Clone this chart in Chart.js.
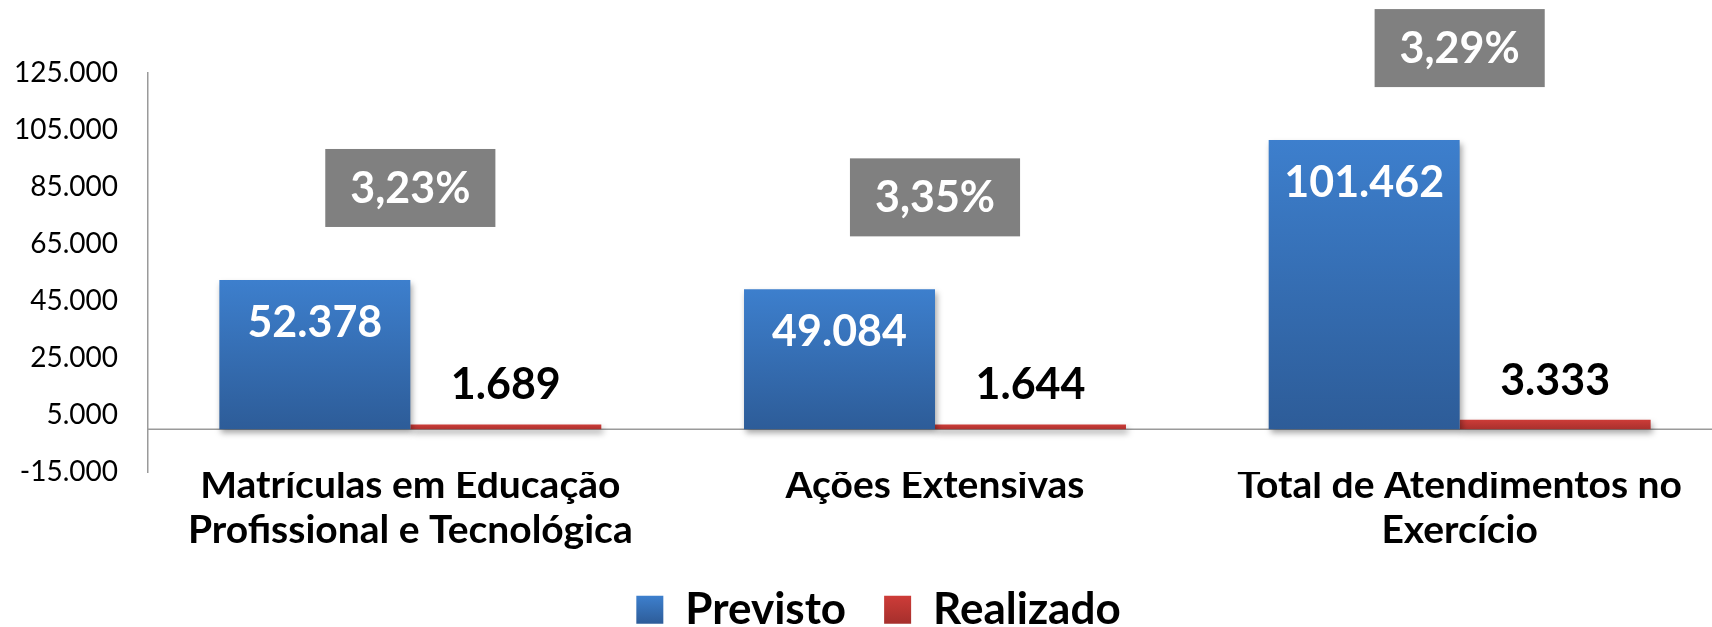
<!DOCTYPE html>
<html lang="pt-BR">
<head>
<meta charset="utf-8">
<script src="https://cdn.jsdelivr.net/npm/chart.js@4"></script>
<style>
  html, body { margin: 0; padding: 0; background: #fff; overflow: hidden; }
  #wrap { width: 1722px; height: 627px; position: relative; }
</style>
</head>
<body>
<div id="wrap"><canvas id="myChart"></canvas></div>
<script>
const categorias = [
  ['Matrículas em Educação', 'Profissional e Tecnológica'],
  'Ações Extensivas',
  ['Total de Atendimentos no', 'Exercício']
];
const previsto = [52378, 49084, 101462];
const realizado = [1689, 1644, 3333];
const percentuais = ['3,23%', '3,35%', '3,29%'];
const yTicks = [-15000, 5000, 25000, 45000, 65000, 85000, 105000, 125000];

const FONTE = 'Lato, "Open Sans", sans-serif';

function fmt (v) {
  const s = Math.abs(v).toString().replace(/\B(?=(\d{3})+(?!\d))/g, '.');
  return (v < 0 ? '-' : '') + s;
}

function gradiente (cima, baixo) {
  return function (ctx) {
    if (ctx.type !== 'data' || !ctx.chart.chartArea) return cima;
    const y = ctx.chart.scales.y;
    const y0 = y.getPixelForValue(ctx.raw);
    const y1 = y.getPixelForValue(0);
    const g = ctx.chart.ctx.createLinearGradient(0, y0, 0, y1 + 1);
    g.addColorStop(0, cima);
    g.addColorStop(1, baixo);
    return g;
  };
}

const rotulos = {
  id: 'rotulos',
  afterLayout (chart) {
    // deixa os rótulos de duas linhas descerem sobre a área da legenda
    chart.scales.x.bottom = chart.height;
    // legenda um pouco deslocada para a direita, como no original
    chart.legend.left = 35;
  },
  beforeDatasetsDraw (chart) {
    const c = chart.ctx;
    const area = chart.chartArea;
    const y0 = chart.scales.y.getPixelForValue(0);
    c.save();
    c.strokeStyle = '#9a9a9a';
    c.lineWidth = 1.5;
    c.beginPath();
    c.moveTo(area.left, y0);
    c.lineTo(area.right, y0);
    c.stroke();
    c.restore();
    // sombra das barras
    c.save();
    c.shadowColor = 'rgba(0,0,0,0.35)';
    c.shadowBlur = 6;
    c.shadowOffsetX = 2;
    c.shadowOffsetY = 4;
  },
  afterDatasetsDraw (chart) {
    const c = chart.ctx;
    c.restore();
    const azul = chart.getDatasetMeta(0).data;
    const verm = chart.getDatasetMeta(1).data;
    c.save();
    c.textAlign = 'center';
    c.textBaseline = 'middle';
    azul.forEach((bar, i) => {
      c.font = 'bold 43px ' + FONTE;
      c.fillStyle = '#ffffff';
      c.fillText(fmt(previsto[i]), bar.x, bar.y + 43);

      const r = verm[i];
      c.fillStyle = '#000000';
      c.fillText(fmt(realizado[i]), r.x, r.y - 39);

      // caixa cinza com o percentual
      const cx = chart.scales.x.getPixelForValue(i);
      const cy = bar.y - 92;
      c.font = 'bold 43px ' + FONTE;
      const w = c.measureText(percentuais[i]).width + 50;
      c.fillStyle = '#808080';
      c.fillRect(cx - w / 2, cy - 39, w, 78);
      c.fillStyle = '#ffffff';
      c.fillText(percentuais[i], cx, cy + 1);
    });
    c.restore();
  }
};

const ctx = document.getElementById('myChart').getContext('2d');
const myChart = new Chart(ctx, {
  type: 'bar',
  data: {
    labels: categorias,
    datasets: [{
      label: 'Previsto',
      data: previsto,
      backgroundColor: gradiente('#3d7fcd', '#2d5c98')
    }, {
      label: 'Realizado',
      data: realizado,
      backgroundColor: gradiente('#cd3c38', '#a52f2c')
    }]
  },
  options: {
    responsive: true,
    maintainAspectRatio: false,
    animation: false,
    layout: { padding: { top: 73, left: 0, right: 0, bottom: 0 } },
    datasets: {
      bar: { categoryPercentage: 0.728, barPercentage: 1.0 }
    },
    scales: {
      x: {
        grid: { display: false, drawTicks: false },
        border: { display: false },
        ticks: {
          color: '#000',
          padding: -9,
          maxRotation: 0,
          autoSkip: false,
          font: { family: FONTE, size: 39, weight: 'bold', lineHeight: 45 / 39 }
        },
        afterFit (scale) { scale.height = 77.7; }
      },
      y: {
        min: -15000,
        max: 125000,
        grid: { display: false, drawTicks: false },
        border: { display: true, color: '#9a9a9a', width: 1.5 },
        afterBuildTicks (scale) {
          scale.ticks = yTicks.map(v => ({ value: v }));
        },
        ticks: {
          color: '#000',
          padding: 30,
          font: { family: FONTE, size: 28 },
          callback: v => fmt(v)
        },
        afterFit (scale) { scale.width = 148; }
      }
    },
    plugins: {
      tooltip: { enabled: false },
      legend: {
        position: 'bottom',
        maxHeight: 77.3,
        labels: {
          color: '#000',
          boxWidth: 27,
          boxHeight: 28,
          padding: 38,
          font: { family: FONTE, size: 44, weight: 'bold' },
          generateLabels (chart) {
            const cores = [['#3d7fcd', '#2d5c98'], ['#cd3c38', '#a52f2c']];
            return chart.data.datasets.map((ds, i) => {
              const g = chart.ctx.createLinearGradient(0, 596, 0, 624);
              g.addColorStop(0, cores[i][0]);
              g.addColorStop(1, cores[i][1]);
              return {
                text: ds.label,
                fillStyle: g,
                strokeStyle: 'transparent',
                lineWidth: 0,
                datasetIndex: i,
                hidden: false
              };
            });
          }
        }
      }
    }
  },
  plugins: [rotulos]
});
</script>
</body>
</html>
